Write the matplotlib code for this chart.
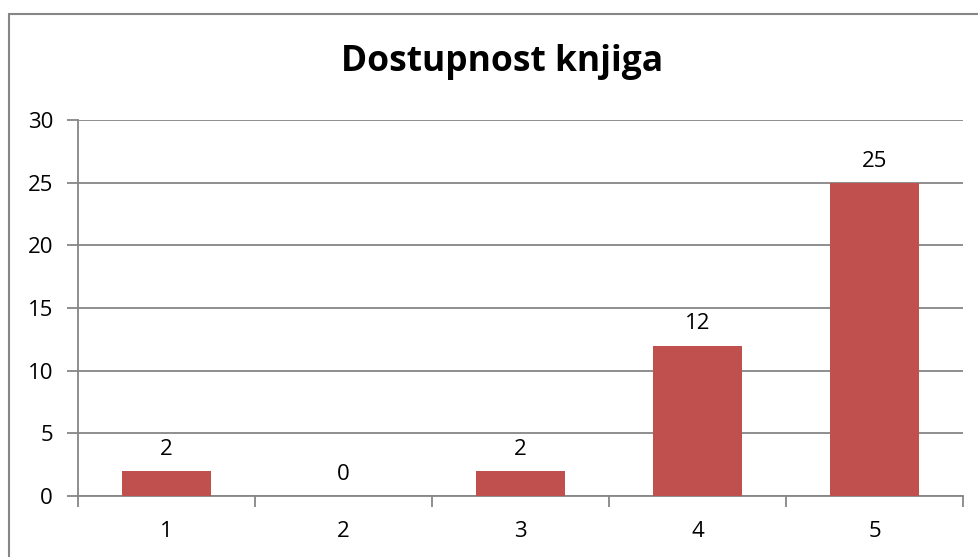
import matplotlib.pyplot as plt
from matplotlib.patches import Rectangle

categories = ["1", "2", "3", "4", "5"]
values = [2, 0, 2, 12, 25]
y_ticks = [0, 5, 10, 15, 20, 25, 30]

plt.rcParams['font.family'] = ['Open Sans', 'DejaVu Sans']

fig = plt.figure(figsize=(9.79, 5.57), dpi=100)
W, H = 979, 557
ax = fig.add_axes([78 / W, 1 - 496 / H, (963 - 78) / W, (496 - 120) / H])

# outer chart border (cut off at right and bottom)
fig.patches.append(Rectangle((9 / W, -0.05), 1.1, 1.05 - 14 / H, transform=fig.transFigure,
                             fill=False, edgecolor='#868686', lw=1.5))

pos = list(range(len(categories)))
bars = ax.bar(pos, values, width=0.5, color='#C0504D', zorder=3)
for p, v in zip(pos, values):
    ax.annotate(str(v), (p, v), xytext=(0, 8), textcoords='offset points',
                ha='center', va='bottom', fontsize=16)

ax.set_xlim(-0.5, len(categories) - 0.5)
ax.set_ylim(0, 30)
ax.set_yticks(y_ticks)
ax.yaxis.grid(True, color='#868686', lw=1.3)
ax.set_axisbelow(True)

ax.set_xticks(pos)
ax.set_xticklabels(categories)
ax.set_xticks([p - 0.5 for p in pos] + [len(categories) - 0.5], minor=True)
ax.tick_params(axis='x', which='major', length=0, pad=18, labelsize=16)
ax.tick_params(axis='x', which='minor', length=8, width=1.3, color='#868686')
ax.tick_params(axis='y', length=8, width=1.3, color='#868686', pad=10, labelsize=16)

for s in ['top', 'right']:
    ax.spines[s].set_visible(False)
for s in ['left', 'bottom']:
    ax.spines[s].set_color('#868686')
    ax.spines[s].set_linewidth(1.3)

fig.text(502 / W, 1 - 62 / H, "Dostupnost knjiga", ha='center', va='center',
         fontsize=25.5, fontweight='bold')

fig.savefig("out.png", dpi=100)
